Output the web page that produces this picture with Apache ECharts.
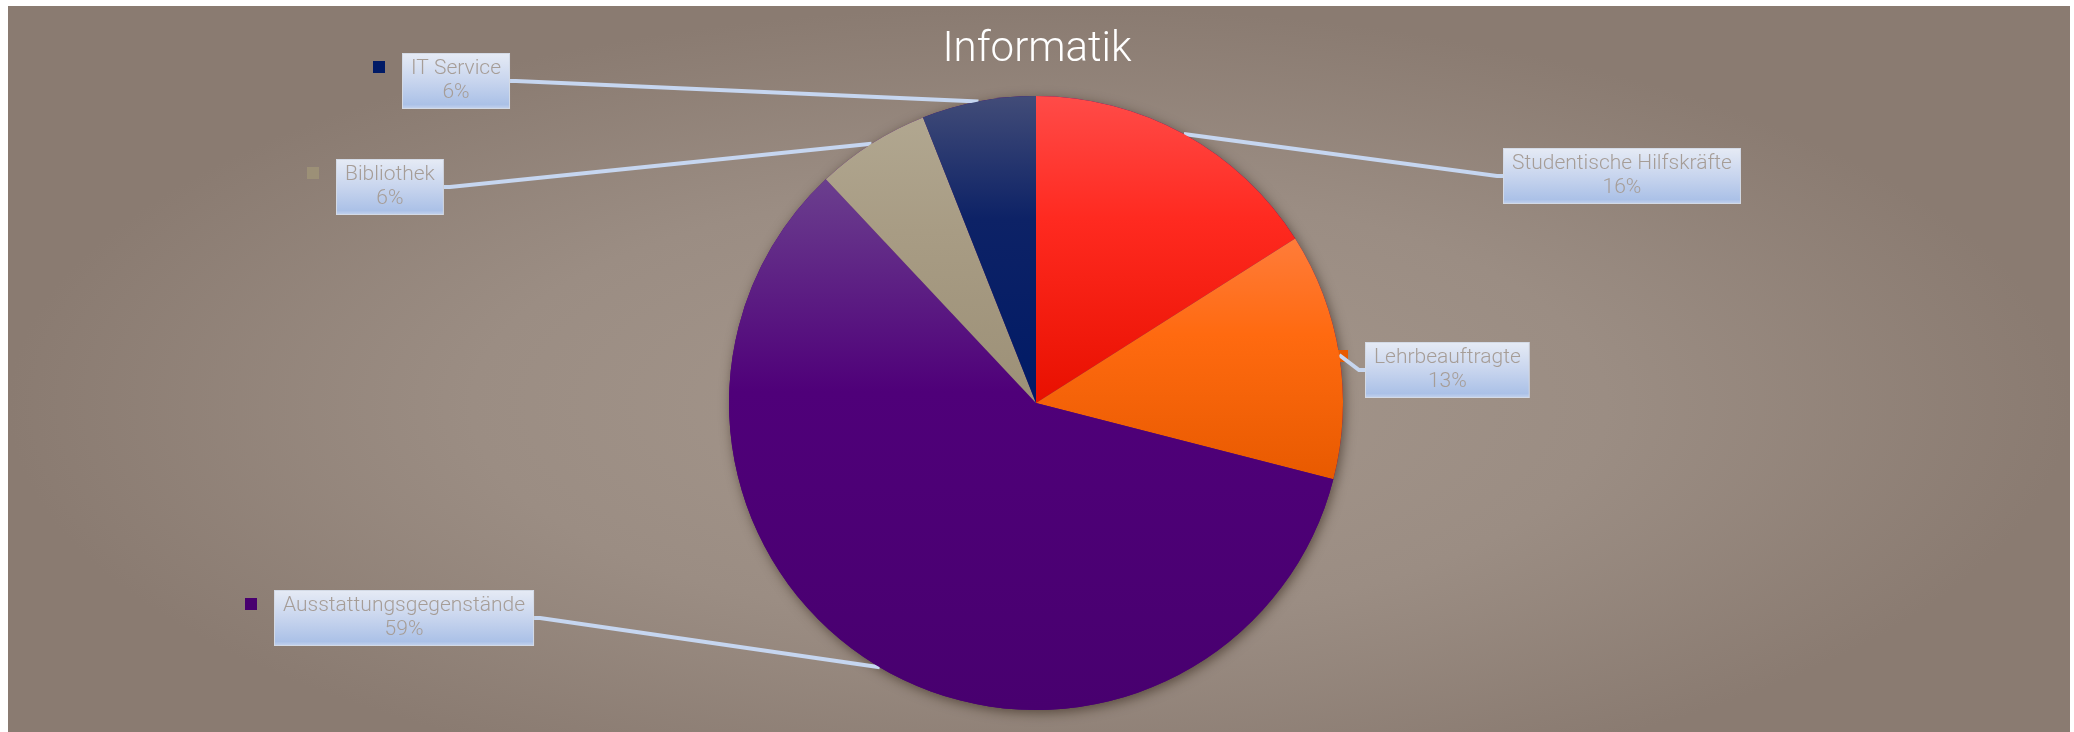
<!DOCTYPE html>
<html>
<head>
<meta charset="utf-8">
<script src="https://cdn.jsdelivr.net/npm/echarts@6/dist/echarts.min.js"></script>
<style>
  html, body { margin: 0; padding: 0; background: #ffffff; }
  #bg { position: absolute; left: 8px; top: 6px; width: 2062px; height: 726px;
        background: radial-gradient(ellipse farthest-side at 50% 55%, #a5978c 0%, #9b8d83 55%, #8a7b71 100%); }
  #chart { position: absolute; left: 0; top: 0; width: 2074px; height: 732px; }
</style>
</head>
<body>
<div id="bg"></div>
<div id="chart"></div>
<script>
// ---- data ----
const title = 'Informatik';
const categories = ['Studentische Hilfskräfte', 'Lehrbeauftragte', 'Ausstattungsgegenstände', 'Bibliothek', 'IT Service'];
const values = [16, 13, 59, 6, 6];

// ---- styles / layout ----
const colorTop    = ['#ff4b48', '#ff7c3a', '#6b3f8e', '#b1a790', '#424c78'];
const colorMid    = ['#ff2a20', '#ff6a10', '#4f0079', '#a89c84', '#0d2266'];
const colorBottom = ['#e81000', '#e85a00', '#48006f', '#9c9077', '#001a66'];
const labelBoxes = [
  { left: 1504, top: 149, key: false },
  { left: 1366, top: 343, key: true },
  { left: 275,  top: 591, key: true },
  { left: 337,  top: 160, key: true },
  { left: 403,  top: 54,  key: true }
];

function grad(i) {
  return new echarts.graphic.LinearGradient(0, 0, 0, 1, [
    { offset: 0, color: colorTop[i] },
    { offset: 0.4, color: colorMid[i] },
    { offset: 1, color: colorBottom[i] }
  ]);
}

const mainData = categories.map((c, i) => ({ name: c, value: values[i], itemStyle: { color: grad(i) } }));
const keyData = categories.map((c, i) => ({
  name: c, value: values[i],
  label: { backgroundColor: colorBottom[i], show: labelBoxes[i].key }
}));

const chart = echarts.init(document.getElementById('chart'), null, { renderer: 'canvas' });
const center = [1036, 403];
const radius = 307;

chart.setOption({
  animation: false,
  backgroundColor: 'transparent',
  title: {
    text: title, left: 'center', top: 24,
    textStyle: { color: '#ffffff', fontSize: 42, fontWeight: 300, fontFamily: 'Roboto' }
  },
  series: [
    {
      // underlay: shadow + legend keys
      type: 'pie', z: 1, center: center, radius: radius, startAngle: 90, clockwise: true,
      silent: true, avoidLabelOverlap: false,
      itemStyle: { color: '#4b0077', shadowBlur: 12, shadowColor: 'rgba(40,25,15,0.55)', shadowOffsetX: 2, shadowOffsetY: 3 },
      label: { show: true, position: 'outside', formatter: ' ', width: 12, height: 12, padding: 0, fontSize: 1 },
      labelLine: { show: false },
      labelLayout: function (p) {
        const b = labelBoxes[p.dataIndex];
        return { x: b.left - 24, y: b.top + 13, align: 'center', verticalAlign: 'middle' };
      },
      emphasis: { disabled: true },
      data: keyData
    },
    {
      type: 'pie', z: 2, center: center, radius: radius, startAngle: 90, clockwise: true,
      percentPrecision: 0, avoidLabelOverlap: false, silent: true,
      itemStyle: { borderWidth: 0 },
      label: {
        show: true, position: 'outside',
        formatter: '{n|{b}}\n{p|{d}%}',
        backgroundColor: new echarts.graphic.LinearGradient(0, 0, 0, 1, [
          { offset: 0, color: '#e6ebf5' },
          { offset: 0.5, color: '#c8d5ee' },
          { offset: 0.92, color: '#abc1e7' },
          { offset: 1, color: '#c6d4ee' }
        ]),
        borderColor: '#d3dae6', borderWidth: 1,
        padding: [3, 8, 3, 8],
        rich: {
          n: { align: 'center', fontFamily: 'Roboto', fontWeight: 300, fontSize: 21, lineHeight: 24, color: '#a69d97' },
          p: { align: 'center', fontFamily: 'Roboto', fontWeight: 300, fontSize: 21, lineHeight: 24, color: '#a69d97' }
        }
      },
      labelLine: { show: true, length: 6, length2: 6, smooth: false,
        lineStyle: { color: '#c6d6f0', width: 4 } },
      labelLayout: function (p) {
        const b = labelBoxes[p.dataIndex];
        return { x: b.left, y: b.top, align: 'left', verticalAlign: 'top' };
      },
      emphasis: { disabled: true },
      data: mainData
    }
  ]
});
</script>
</body>
</html>
